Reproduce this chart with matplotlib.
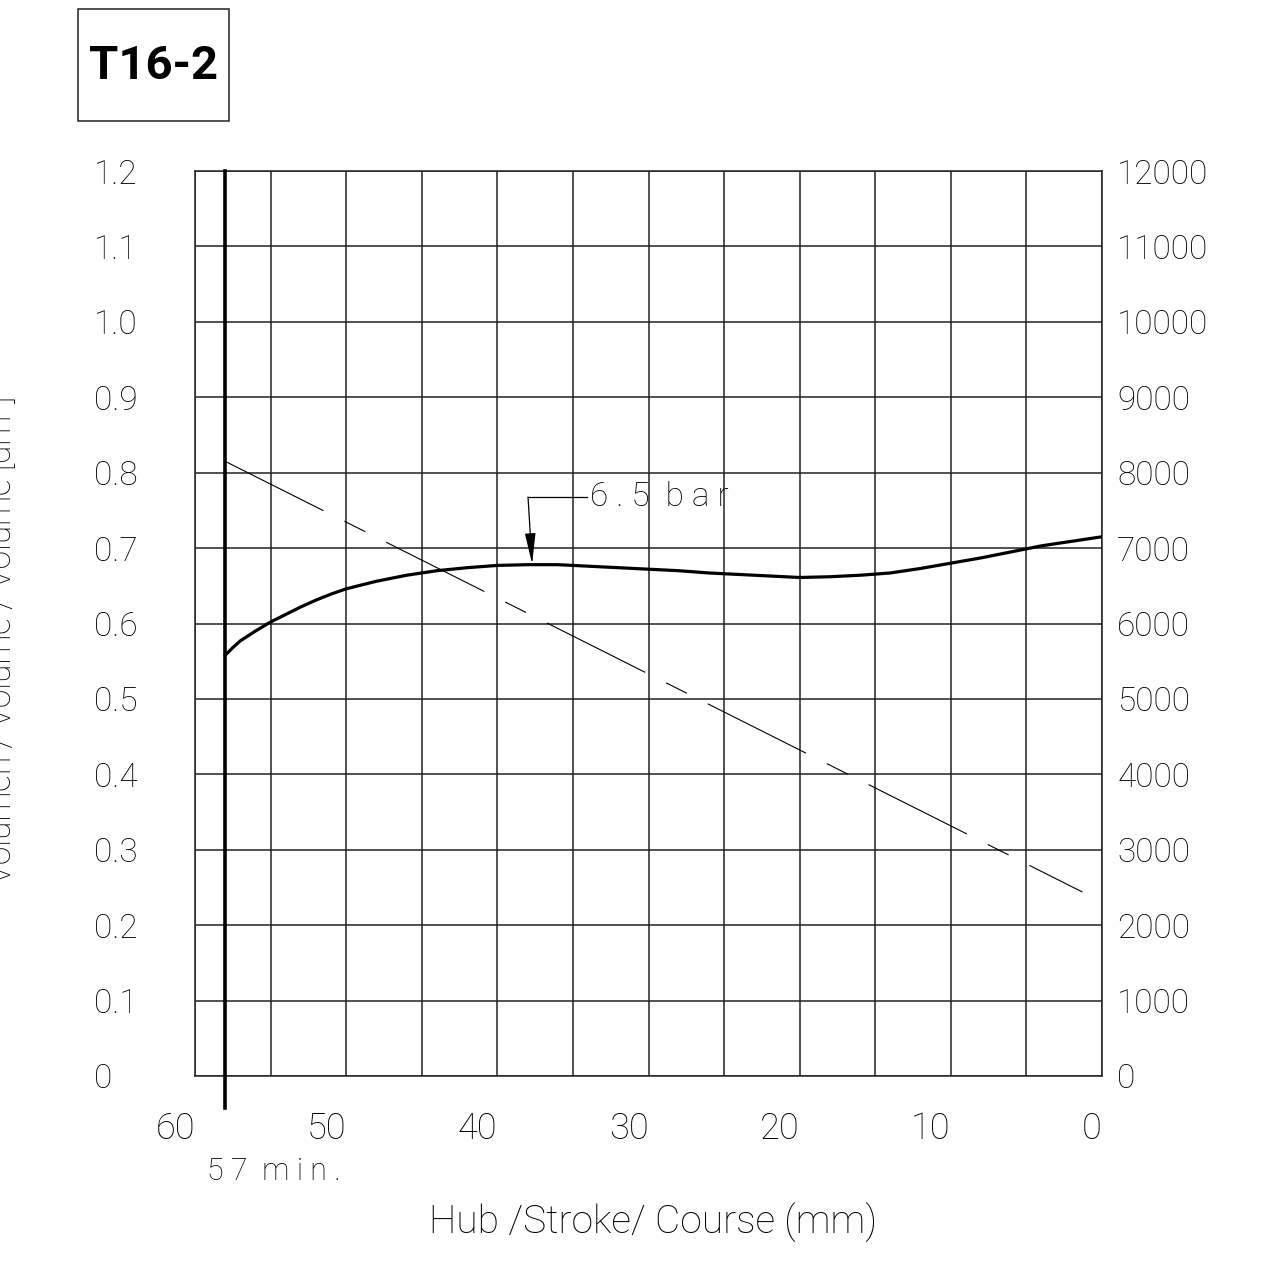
import numpy as np
import matplotlib.pyplot as plt
from matplotlib.patches import Rectangle

plt.rcParams['font.family'] = ['Roboto', 'DejaVu Sans']
plt.rcParams['font.weight'] = 'light'

# Stroke (mm) vs volume (dm3)
stroke = [58, 57.5, 57, 56, 55, 54, 53, 52, 51, 50, 48, 46, 44, 42, 40, 38, 36, 34,
          32, 30, 28, 26, 24, 22, 20, 18, 16, 14, 12, 10, 8, 6, 4, 2, 0]
volume = [0.558, 0.568, 0.577, 0.590, 0.602, 0.612, 0.622, 0.631, 0.639, 0.646,
          0.656, 0.664, 0.670, 0.674, 0.677, 0.678, 0.678, 0.676, 0.674, 0.672,
          0.670, 0.667, 0.665, 0.663, 0.661, 0.662, 0.664, 0.667, 0.673, 0.680,
          0.687, 0.695, 0.703, 0.709, 0.715]

# thin dash-dot reference line
ref_x = [58, 1.3]
ref_y = [0.815, 0.244]

min_stroke = 58
x_ticks = [60, 50, 40, 30, 20, 10, 0]
y_left = [0, 0.1, 0.2, 0.3, 0.4, 0.5, 0.6, 0.7, 0.8, 0.9, 1.0, 1.1, 1.2]
y_right = list(range(0, 12001, 1000))

W, H = 1261, 1272
fig = plt.figure(figsize=(W / 100, H / 100), dpi=100)
ax = fig.add_axes([195 / W, 1 - 1076 / H, (1102 - 195) / W, (1076 - 171) / H])

fs = 24
gridc = '#222222'

ax.set_xlim(60, 0)
ax.set_ylim(0, 1.2)
ax.set_xticks(x_ticks)
ax.set_xticks(np.arange(0, 61, 5), minor=True)
ax.set_yticks(y_left)
ax.grid(True, which='both', color=gridc, lw=1.1)
ax.tick_params(which='both', length=0)
for s in ax.spines.values():
    s.set_color(gridc)
    s.set_linewidth(1.1)

ax.set_xticklabels([str(v) for v in x_ticks], fontsize=26)
for lbl in ax.get_xticklabels():
    lbl.set_horizontalalignment('right')
ax.tick_params(axis='x', pad=25)

ax.set_yticklabels([f'{v:.1f}' if v > 0 else '0' for v in y_left], fontsize=fs)
for lbl in ax.get_yticklabels():
    lbl.set_horizontalalignment('left')
ax.tick_params(axis='y', pad=73)

ax2 = ax.twinx()
ax2.set_ylim(0, 12000)
ax2.set_yticks(y_right)
ax2.set_yticklabels([str(v) for v in y_right], fontsize=fs)
ax2.tick_params(length=0, pad=11)
for s in ax2.spines.values():
    s.set_visible(False)

# curves
ax.plot(stroke, volume, color='black', lw=2.3, solid_joinstyle='round', zorder=5)
ax.plot(ref_x, ref_y, color='black', lw=0.8, dashes=(99, 21, 21, 21), zorder=4)
ax.plot([min_stroke, min_stroke], [-0.042, 1.2], color='black', lw=2.6,
        clip_on=False, zorder=6)

# 6.5 bar label with leader
ax.plot([34.07, 37.97], [0.7677, 0.7677], color='black', lw=0.9, zorder=6)
ax.annotate('', xy=(37.7, 0.679), xytext=(37.97, 0.7677),
            arrowprops=dict(arrowstyle='-|>,head_length=1.9,head_width=0.33',
                            color='black', lw=0.9, shrinkA=0, shrinkB=0), zorder=6)
ax.text(33.9, 0.7677, '6 . 5  b a r', fontsize=fs, va='center', ha='left', zorder=6)

fig.text(207 / W, 1 - 1172 / H, '5 7  m i n .', fontsize=22, va='center', ha='left')
fig.text(653 / W, 1 - 1222 / H, 'Hub /Stroke/ Course (mm)',
         fontsize=28, va='center', ha='center')
fig.text(2 / W, 1 - 640 / H, 'Volumen / Volume / Volume [dm³]',
         fontsize=fs, va='center', ha='center', rotation=90)

# title box
fig.add_artist(Rectangle((78 / W, 1 - 121 / H), (229 - 78) / W, (121 - 9) / H,
                         transform=fig.transFigure, fill=False, ec=gridc, lw=1.1))
fig.text(153 / W, 1 - 66 / H, 'T16-2', fontsize=34, fontweight='bold',
         va='center', ha='center')

fig.savefig('out.png', dpi=100, facecolor='white')
